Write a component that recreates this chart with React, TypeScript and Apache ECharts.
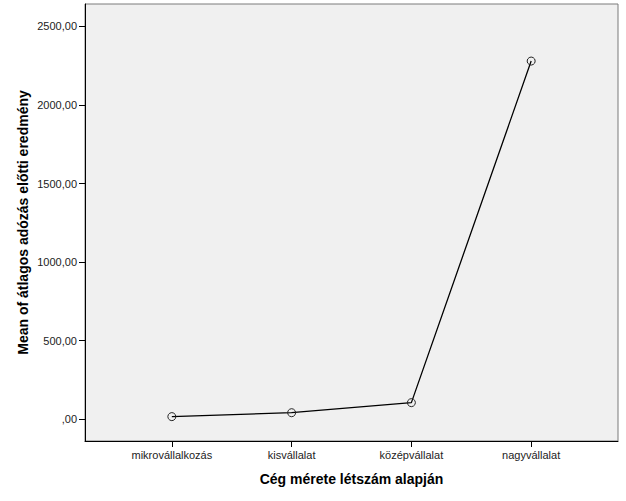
import React, { useEffect, useRef } from "react";
import * as echarts from "echarts";

const categories = ["mikrovállalkozás", "kisvállalat", "középvállalat", "nagyvállalat"];
const meanValues = [17, 42, 106, 2279];
const yTickValues = [0, 500, 1000, 1500, 2000, 2500];
const yTickLabels = [",00", "500,00", "1000,00", "1500,00", "2000,00", "2500,00"];
const xTitle = "Cég mérete létszám alapján";
const yTitle = "Mean of átlagos adózás előtti eredmény";

export default function App() {
  const ref = useRef<HTMLDivElement>(null);
  useEffect(() => {
    if (!ref.current) return;
    const chart = echarts.init(ref.current, null, { renderer: "svg" });
    const font = "Arial, 'Liberation Sans', sans-serif";
    chart.setOption({
      animation: false,
      backgroundColor: "#ffffff",
      grid: {
        left: 85,
        top: 4,
        right: 8,
        bottom: 60,
        show: true,
        backgroundColor: "#f0f0f0",
        borderColor: "#7a7a7a",
        borderWidth: 1,
      },
      xAxis: {
        type: "value",
        min: -0.725,
        max: 3.725,
        name: xTitle,
        nameLocation: "middle",
        nameGap: 31,
        nameMoveOverlap: false,
        nameTextStyle: { fontFamily: font, fontSize: 14, fontWeight: "bold", color: "#000" },
        axisLine: { show: true, onZero: false, lineStyle: { color: "#000", width: 1 } },
        axisTick: { show: true, length: 6, customValues: [0, 1, 2, 3], lineStyle: { color: "#000" } },
        axisLabel: {
          customValues: [0, 1, 2, 3],
          formatter: (v: number) => categories[Math.round(v)] ?? "",
          fontFamily: font,
          fontSize: 11,
          color: "#222",
          margin: 8,
        },
        splitLine: { show: false },
      },
      yAxis: {
        type: "value",
        min: -138,
        max: 2642,
        name: yTitle,
        nameLocation: "middle",
        nameGap: 55,
        nameMoveOverlap: false,
        nameTextStyle: { fontFamily: font, fontSize: 14, fontWeight: "bold", color: "#000" },
        axisLine: { show: true, onZero: false, lineStyle: { color: "#000", width: 1 } },
        axisTick: { show: true, length: 6, customValues: yTickValues, lineStyle: { color: "#000" } },
        axisLabel: {
          customValues: yTickValues,
          formatter: (v: number) => yTickLabels[yTickValues.indexOf(Math.round(v))] ?? "",
          fontFamily: font,
          fontSize: 11,
          color: "#222",
          margin: 8,
        },
        splitLine: { show: false },
      },
      series: [
        {
          type: "line",
          data: meanValues.map((v, i) => [i, v]),
          symbol: "circle",
          symbolSize: 8,
          itemStyle: { color: "rgba(0,0,0,0)", borderColor: "#222", borderWidth: 1 },
          lineStyle: { color: "#000", width: 1.3 },
        },
      ],
    });
    return () => chart.dispose();
  }, []);
  return (
    <div
      ref={ref}
      style={{ position: "absolute", left: 0, top: 0, width: 626, height: 501, background: "#fff" }}
    />
  );
}
